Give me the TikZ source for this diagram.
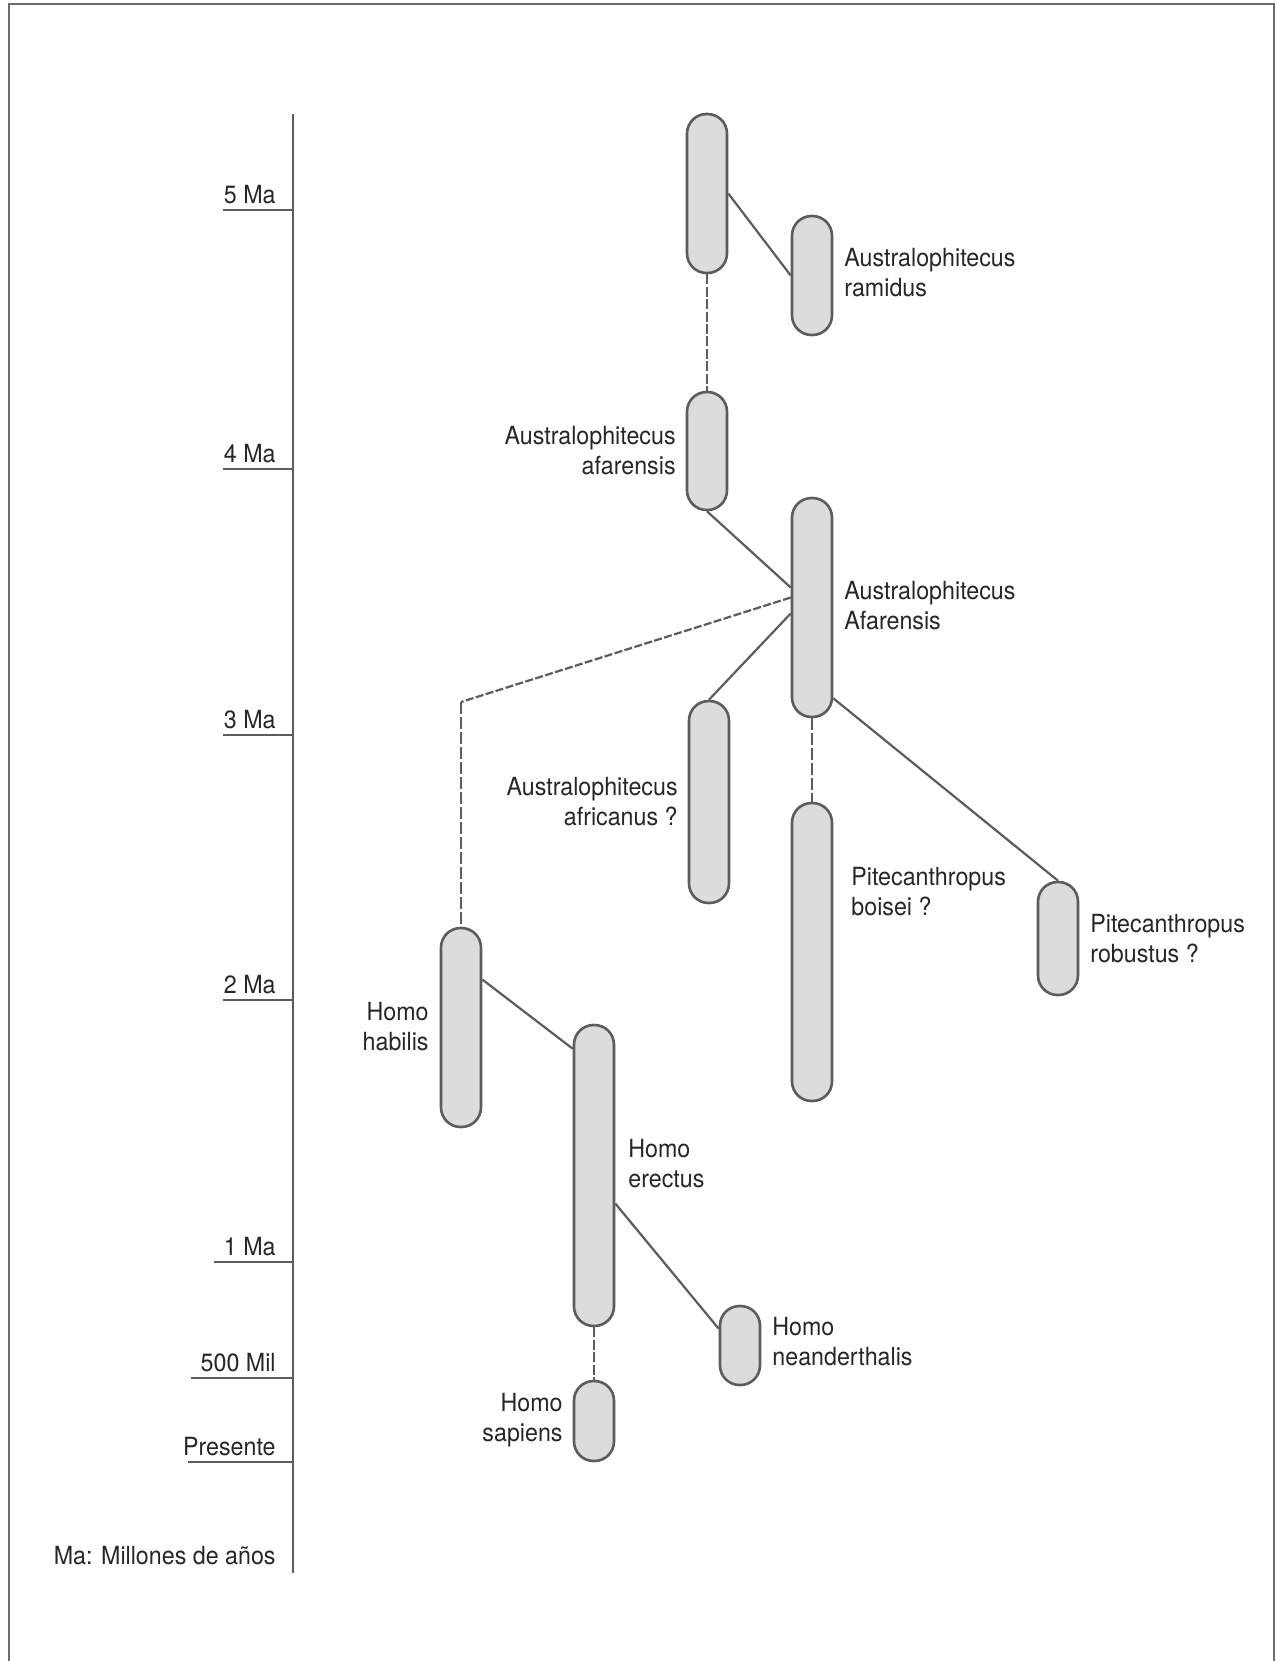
\documentclass[tikz,border=0pt]{standalone}
\usepackage{fontspec}
\setmainfont[FakeStretch=0.93]{TeX Gyre Heros}
\usetikzlibrary{calc}

\definecolor{inkgray}{HTML}{5C5C5C}
\definecolor{capfill}{HTML}{DCDCDC}
\definecolor{textgray}{HTML}{262626}

\begin{document}
\begin{tikzpicture}[
  x=0.5pt, y=-0.5pt,
  capsule/.style={draw=inkgray, fill=capfill, line width=1.3pt,
    rounded corners=9.8pt, minimum width=20pt, inner sep=0pt,
    minimum height=0.5pt*#1},
  taxon/.style={font=\fontsize{12.5}{15}\selectfont, text=textgray,
    inner sep=0pt},
  agelabel/.style={taxon, anchor=base east},
  link/.style={draw=inkgray, line width=1.1pt},
  gap/.style={link, line width=1.3pt, dash pattern=on 5pt off 1.2pt},
  thingap/.style={draw=inkgray, line width=0.6pt,
    dash pattern=on 6pt off 1.5pt},
  tick/.style={draw=inkgray, line width=1.4pt},
  frame/.style={draw=inkgray!90, line width=1pt}
]
  \useasboundingbox (0,0) rectangle (1276,1661);
  \draw[frame] (8.5,1661) -- (8.5,4) -- (1274,4) -- (1274,1661);

  % time axis
  \draw[draw=inkgray, line width=0.9pt] (293,114) -- (293,1573);
  \draw[tick] (223,210) -- (293,210);
  \draw[tick] (223,469) -- (293,469);
  \draw[tick] (223,735) -- (293,735);
  \draw[tick] (223,1000) -- (293,1000);
  \draw[tick] (214,1262) -- (293,1262);
  \draw[draw=inkgray, line width=0.7pt] (191,1378) -- (293,1378);
  \draw[tick] (188,1462) -- (293,1462);
  \node[agelabel] (ma5) at (276,203) {5 Ma};
  \node[agelabel] (ma4) at (276,462) {4 Ma};
  \node[agelabel] (ma3) at (276,728) {3 Ma};
  \node[agelabel] (ma2) at (276,993) {2 Ma};
  \node[agelabel] (ma1) at (276,1255) {1 Ma};
  \node[agelabel] (mil500) at (276,1371) {500 Mil};
  \node[agelabel] (present) at (276,1455) {Presente};
  \node[agelabel] (legend) at (276,1564) {Ma: Millones de años};

  % species
  \node[capsule=159] (root) at (707,193.5) {};
  \node[capsule=119] (ramidus) at (812,275.5) {};
  \node[capsule=118] (afar) at (707,451) {};
  \node[capsule=219] (afarbig) at (812,607.5) {};
  \node[capsule=202] (africanus) at (709,802) {};
  \node[capsule=298] (boisei) at (812,952) {};
  \node[capsule=113] (robustus) at (1058,938.5) {};
  \node[capsule=199] (habilis) at (461,1027.5) {};
  \node[capsule=301] (erectus) at (594,1175.5) {};
  \node[capsule=79] (neander) at (740,1345.5) {};
  \node[capsule=80] (sapiens) at (594,1421) {};

  \node[taxon, anchor=west, align=left] (ramiduslbl) at (844,273)
    {Australophitecus\\ramidus};
  \node[taxon, anchor=east, align=right] (afarlbl) at (676,451)
    {Australophitecus\\afarensis};
  \node[taxon, anchor=west, align=left] (afarbiglbl) at (844,606)
    {Australophitecus\\Afarensis};
  \node[taxon, anchor=east, align=right] (africanuslbl) at (678,802)
    {Australophitecus\\africanus ?};
  \node[taxon, anchor=west, align=left] (boiseilbl) at (851,892)
    {Pitecanthropus\\boisei ?};
  \node[taxon, anchor=west, align=left] (robustuslbl) at (1090,939)
    {Pitecanthropus\\robustus ?};
  \node[taxon, anchor=east, align=right] (habilislbl) at (429,1027)
    {Homo\\habilis};
  \node[taxon, anchor=west, align=left] (erectuslbl) at (628,1164)
    {Homo\\erectus};
  \node[taxon, anchor=west, align=left] (neanderlbl) at (772,1342)
    {Homo\\neanderthalis};
  \node[taxon, anchor=east, align=right] (sapienslbl) at (563,1420)
    {Homo\\sapiens};

  % lineages
  \coordinate (hbend) at (461,702);
  \draw[link] (root.east) -- (ramidus.west);
  \draw[gap] (root.south) -- (afar.north);
  \draw[link] (afar.south) -- ([yshift=10pt]afarbig.west);
  \draw[link, dash pattern=on 4pt off 1.2pt]
    ([yshift=5pt]afarbig.west) -- (hbend);
  \draw[thingap] (hbend) -- (habilis.north);
  \draw[link] ([yshift=-3pt]afarbig.west) -- (africanus.north);
  \draw[thingap] (afarbig.south) -- (boisei.north);
  \draw[link] ([yshift=10pt]afarbig.south east) -- (robustus.north);
  \draw[link] ([yshift=24pt]habilis.east)
    -- ([yshift=-12.5pt]erectus.north west);
  \draw[link] ([yshift=-14pt]erectus.east)
    -- ([yshift=-12pt]neander.north west);
  \draw[gap] (erectus.south) -- (sapiens.north);
\end{tikzpicture}
\end{document}
